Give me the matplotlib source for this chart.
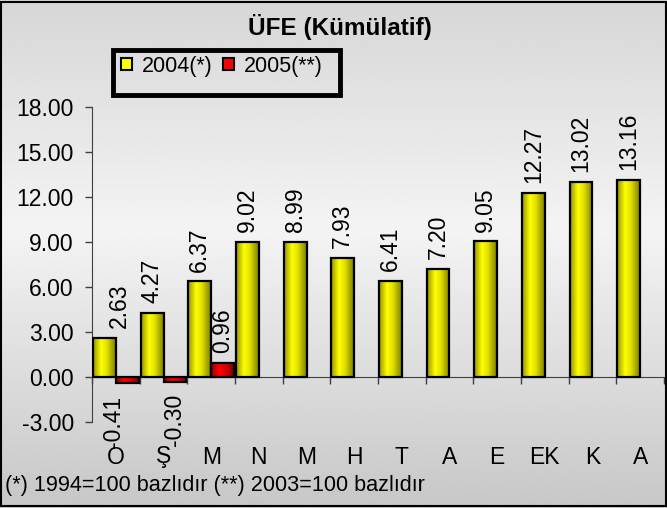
import numpy as np
import matplotlib
matplotlib.use("Agg")
import matplotlib.pyplot as plt
from matplotlib.patches import Rectangle
from matplotlib.colors import LinearSegmentedColormap
from matplotlib.transforms import blended_transform_factory

# ---- data ----
categories = ["O", "Ş", "M", "N", "M", "H", "T", "A", "E", "EK", "K", "A"]
values_2004 = [2.63, 4.27, 6.37, 9.02, 8.99, 7.93, 6.41, 7.20, 9.05, 12.27, 13.02, 13.16]
values_2005 = [-0.41, -0.30, 0.96]
series_names = ["2004(*)", "2005(**)"]
title = "ÜFE (Kümülatif)"
footnote = "(*) 1994=100 bazlıdır (**) 2003=100 bazlıdır"
yticks = [-3, 0, 3, 6, 9, 12, 15, 18]

plt.rcParams['font.family'] = ['Liberation Sans', 'DejaVu Sans']

W, H = 667, 508
fig = plt.figure(figsize=(W / 100, H / 100), dpi=100)

# background gradient
bg = fig.add_axes([0, 0, 1, 1], zorder=-10)
bg.set_axis_off()
yy = np.linspace(0, 1, 256)
top_c, mid_c, bot_c = 0.84, 0.955, 0.78
g = np.where(yy < 0.45, top_c + (mid_c - top_c) * (yy / 0.45),
             mid_c + (bot_c - mid_c) * ((yy - 0.45) / 0.55))
img = np.repeat(g[:, None], 2, axis=1)
bg.imshow(img, cmap="gray", vmin=0, vmax=1, aspect="auto", extent=[0, 1, 0, 1])
bg.set_xlim(0, 1); bg.set_ylim(0, 1)
fig.patches.append(Rectangle((0.002, 0.003), 0.996, 0.994, transform=fig.transFigure,
                             fill=False, edgecolor="black", linewidth=1.5, zorder=5))

ax = fig.add_axes([92 / W, 1 - 422 / H, (664 - 92) / W, (422 - 107) / H])
ax.patch.set_alpha(0)

n = len(categories)
x = np.arange(n)
bw = 0.48
bars1 = ax.bar(x + 0.02, values_2004, width=bw, align="edge",
               facecolor="#ffff00", edgecolor="black", linewidth=1.6, zorder=3)
bars2 = ax.bar(x[:len(values_2005)] + 0.5, values_2005, width=bw, align="edge",
               facecolor="#ff0000", edgecolor="black", linewidth=1.6, zorder=3)

# gradient fills clipped to each bar
grad = np.linspace(0, 1, 64)
prof = np.interp(grad, [0, 0.35, 0.6, 1], [0.45, 1.0, 0.85, 0.35])
ycmap = LinearSegmentedColormap.from_list("y", ["#3a3a00", "#ffff00"])
rcmap = LinearSegmentedColormap.from_list("r", ["#3a0000", "#ff0000"])
for bars, cm in ((bars1, ycmap), (bars2, rcmap)):
    for b in bars:
        x0, w = b.get_x(), b.get_width()
        y0, h = b.get_y(), b.get_height()
        im = ax.imshow(prof[None, :], cmap=cm, vmin=0, vmax=1, aspect="auto",
                       extent=[x0, x0 + w, min(y0, y0 + h), max(y0, y0 + h)], zorder=2.5)
        im.set_clip_path(b)
        b.set_facecolor("none")

ax.set_xlim(0, n)
ax.set_ylim(-3, 18)
ax.set_aspect("auto")
ax.set_yticks(yticks)
ax.set_yticklabels([f"{v:.2f}" for v in yticks], fontsize=16.5)
ax.set_xticks(np.arange(n + 1))
ax.set_xticklabels([])
ax.spines["top"].set_visible(False)
ax.spines["right"].set_visible(False)
ax.spines["bottom"].set_position(("data", 0))
ax.spines["bottom"].set_color("#404040")
ax.spines["left"].set_color("#404040")
ax.tick_params(axis="both", direction="out", length=5, color="#404040", width=1)
ax.tick_params(axis="y", pad=8)

# data labels
nudge1 = [11] + [0] * (n - 1)
nudge2 = [-10, 0, 0]
for b, v, dx in zip(bars1, values_2004, nudge1):
    ax.annotate(f"{v:.2f}", (b.get_x() + b.get_width() / 2, v), xytext=(dx, 7),
                textcoords="offset points", rotation=90, ha="center", va="bottom",
                fontsize=16.5, zorder=4)
for b, v, dx in zip(bars2, values_2005, nudge2):
    ax.annotate(f"{v:.2f}", (b.get_x() + b.get_width() / 2, v),
                xytext=(dx, 7 if v >= 0 else -9),
                textcoords="offset points", rotation=90, ha="center",
                va="bottom" if v >= 0 else "top", fontsize=16.5, zorder=4)

# category labels
tr = blended_transform_factory(ax.transData, fig.transFigure)
for i, c in enumerate(categories):
    ax.text(i + 0.5, 1 - 457 / H, c, transform=tr, ha="center", va="center", fontsize=16.5)

fig.text(340 / W, 1 - 27 / H, title, ha="center", va="center", fontsize=17.5, fontweight="bold")
fig.text(5 / W, 1 - 486 / H, footnote, ha="left", va="center", fontsize=15.6)

# legend box
fig.patches.append(Rectangle((113 / W, 1 - 95 / H), 227 / W, 45 / H, transform=fig.transFigure,
                             fill=False, edgecolor="black", linewidth=3.5, zorder=5))
leg = fig.legend([bars1[0], bars2[0]], series_names, loc="upper left",
                 bbox_to_anchor=(121 / W, 1 - 56 / H), frameon=False, fontsize=15.5,
                 handlelength=0.5, handleheight=0.5, handletextpad=0.45,
                 columnspacing=0.5, ncol=2, borderaxespad=0, borderpad=0)
leg.legend_handles[0].set_facecolor("#ffff00")
leg.legend_handles[1].set_facecolor("#ff0000")
for hnd in leg.legend_handles:
    hnd.set_edgecolor("black")
    hnd.set_linewidth(1.5)

fig.savefig("out.png", dpi=100)
